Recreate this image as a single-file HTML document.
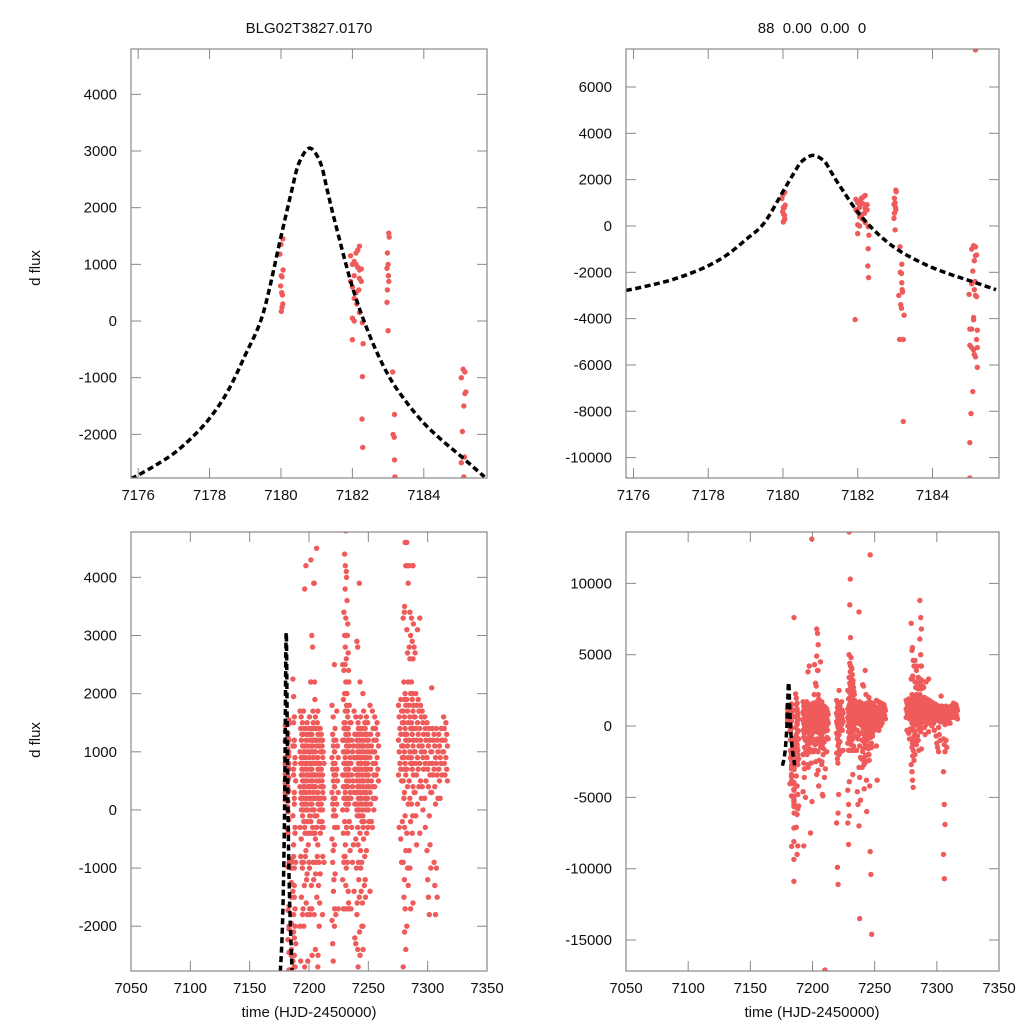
<!DOCTYPE html>
<html><head><meta charset="utf-8"><style>
html,body{margin:0;padding:0;background:#fff;width:1024px;height:1024px;overflow:hidden;}
svg{display:block;font-family:"Liberation Sans",sans-serif;}
</style></head><body>
<svg id="fig" width="1024" height="1024" viewBox="0 0 1024 1024">
<text x="309" y="33" font-size="15" text-anchor="middle" fill="#111">BLG02T3827.0170</text>
<text x="812" y="33" font-size="15" text-anchor="middle" fill="#111" xml:space="preserve">88  0.00  0.00  0</text>
<text transform="translate(40,268) rotate(-90)" font-size="15" text-anchor="middle" fill="#111">d flux</text>
<text transform="translate(40,740) rotate(-90)" font-size="15" text-anchor="middle" fill="#111">d flux</text>
<text x="309" y="1017" font-size="15" text-anchor="middle" fill="#111">time (HJD-2450000)</text>
<text x="812" y="1017" font-size="15" text-anchor="middle" fill="#111">time (HJD-2450000)</text>
</svg>
<script>
// ---- data ----
const curveTimes = [7175.8,7176,7176.5,7177,7177.5,7178,7178.5,7179,7179.5,7180,7180.3,7180.5,7180.8,7181.1,7181.3,7181.5,7182,7182.5,7183,7183.5,7184,7184.5,7185,7185.7];
const curveFlux  = [-2780,-2720,-2540,-2335,-2060,-1718,-1250,-600,135,1490,2300,2780,3050,2800,2300,1780,600,-280,-950,-1420,-1800,-2100,-2365,-2750];
const epochTimes = [7180.05,7180,7179.97,7180.06,7180.01,7180.03,7179.99,7180.02,7180.04,7180.05,7180.03,7180.01,
7181.95,7182,7182.05,7182.1,7182.15,7182.2,7182.25,7182.1,7182.15,7182.2,7181.95,7182.05,7182.2,7182.25,7182,7182.1,7182.18,7182.05,7182.12,7182.2,7182,7182.05,7182.28,7182,7182.3,7182.28,7182.27,7182.29,7181.93,
7183.02,7183.03,7182.98,7183,7182.97,7183.01,7183.02,7182.98,7182.97,7183,7183.13,7183.18,7183.14,7183.17,7183.18,7183.19,7183.2,7183.1,7183.15,7183.17,7183.24,7183.12,7183.22,7183.22,
7185.1,7185.15,7185.05,7185.18,7185.15,7185.12,7185.08,7185.14,7185.05,7185.12,7184.98,7185.15,7185.18,7185.1,7185.1,7185,7185.05,7185.2,7185.18,7185,7185.05,7185.1,7185.2,7185.12,7185.15,7185.2,7185.08,7185.03,7185,7185,7185.15];
const epochFlux = [1450,1350,1180,900,800,780,620,500,460,300,240,170,
1150,1000,1050,1000,950,900,920,1200,1250,1320,700,800,750,700,600,500,550,400,300,150,50,0,-30,-330,-400,-980,-1730,-2230,-4040,
1550,1480,1200,1000,930,800,700,550,330,-170,-900,-1650,-2000,-2050,-2450,-2750,-2850,-3000,-3400,-3550,-3850,-4900,-4900,-8440,
-850,-900,-1000,-1250,-1280,-1500,-1950,-2400,-2500,-2750,-2950,-3000,-3050,-3950,-4050,-4450,-4450,-4500,-4900,-5150,-5250,-5350,-5250,-5550,-5650,-6100,-7150,-8100,-9350,-10880,7600];
const nightTimes = [7187,7187.6,7188.2,7193,7194,7195,7196,7197,7198,7199,7200,7201,7202,7203,7204,7205,7206,7207,7208,7209,7210,7211,7212,
7220,7221,7222,7224,7229,7230,7231,7232,7233,7234,7236,7238,7240,7241,7242,7243,7244,7245,7246,7247,7248,7249,7250,7252,7254,7256,7258,
7276,7278,7280,7281,7283,7285,7287,7288,7290,7292,7294,7296,7298,7300,7302,7304,7306,7308,7310,7312,7314,7316];
const nightFlux = [
[2250,1950,1600,1100,700,300,-100,-600,-1000,-1400,-1800,-2200,-2600],
[1500,1200,900,600,200,-300,-800,-1300,-1700,-2100,-2500,-2700,-3500,-4200,-5800,-7100,-9000],
[1100,800,500,100,-400,-900,-1500,-2000,-2300,-2700,-4800,-5600,-6200,-8400],
[1700,1400,1200,1000,800,600,400,200,0,-300,-800,-1500,-2000,-2600,-3000,-4600,-8400],
[1600,1300,1100,900,700,500,300,100,-100,-500,-900,-1800,-3600],
[1500,1300,1000,800,600,400,200,0,-200,-1000,-1700,-2000,-5000],
[1700,1400,1100,900,700,500,300,100,-400,-900,-1300,-2900],
[3800,1400,1200,1000,800,600,400,200,0,-300,-800,-1600,-2700],
[4200,1300,1100,900,700,500,300,100,-200,-700,-1200,-1800],
[1500,1300,1000,800,600,400,200,0,-400,-1100,-2600,-5300,-7500],
[13100,1400,1200,1000,800,600,400,200,-100,-600,-900,-1700],
[1600,1300,1100,900,700,500,300,100,-200,-1000,-1800,4300],
[2200,1400,1200,1000,800,600,400,200,0,-400,-1300,-2500],
[3000,2800,1500,1300,1100,900,700,500,300,100,-300,-900,-1700],
[6800,6500,5700,4900,3900,2200,1700,1400,1200,1000,800,600,400,200,-100,-400,-1200,-3100,-3400],
[3900,1900,1400,1200,1000,800,600,400,200,0,-400,-1100,-1800,-4200],
[1600,1400,1200,1000,800,600,400,200,-100,-500,-900,-1500,-2400],
[4500,1500,1300,1100,900,700,500,300,100,-300,-800,-2500],
[1700,1300,1100,900,700,500,300,100,-200,-600,-1300,-2000,-2700,-4800],
[1400,1200,1000,800,600,400,200,0,-400,-900,-1600,-3600,-4900],
[1400,1200,1000,800,600,400,200,0,-300,-1100,-17100],
[1300,1100,900,700,500,300,100,-200,-800,-3000],
[1200,1000,800,600,400,200,0,-300,-900,-1800],
[1800,1300,1100,900,700,500,300,100,-100,-500,-900,-1400,-1900,-2300,-6100,-6800,-9900,-11100],
[1600,1200,1000,800,600,400,200,0,-300,-700,-1200,-1700,-2600,-4800],
[2500,1400,1200,1000,800,600,400,200,-100,-600,-1100,-1800,-2000],
[1700,1100,900,700,500,300,100,-300,-1700],
[2500,1900,1500,1200,1000,800,600,400,200,0,-400,-800,-1200,-1700,-3900,-4500,-5500,-6300,-6800,-8300],
[13600,8500,6200,5000,4400,4200,3400,3000,2800,2400,2000,1700,1400,1200,1000,800,600,400,200,-200,-600,-900,-1700],
[10300,4800,4000,3800,3300,3000,2500,2200,1800,1500,1300,1100,900,700,500,300,100,-300,-800,-1300],
[4100,3600,3200,2600,2000,1600,1400,1200,1000,800,600,400,200,0,-400,-1000,-1700],
[3000,2700,2200,1700,1400,1200,1000,800,600,400,200,-200,-900,-1400,-1700,-3400],
[2400,1800,1500,1300,1100,900,700,500,300,100,-200,-700,-1600],
[1500,1200,1000,800,600,400,200,-300,-900,-1700,-4600,-5500],
[8000,1700,1300,1100,900,700,500,300,100,-600,-1400,-2200,-2900,-3600,-5200,-7000,-13500],
[1600,1300,1100,900,700,500,300,100,-100,-500,-1000,-1600,-2300,-2900],
[2900,2800,1400,1200,1000,800,600,400,200,0,-300,-900,-1800,-2400,-4400],
[1500,1300,1100,900,700,500,300,100,-100,-600,-1200,-2100,-2700],
[3900,2200,1400,1200,1000,800,600,400,200,0,-400,-1000,-1500,-2500,-6000],
[1600,1300,1100,900,700,500,300,100,-200,-700,-1400,-2000,-3800],
[1400,1200,1000,800,600,400,200,0,-300,-900,-1600,-2400],
[2000,1700,1300,1100,900,700,500,300,100,-100,-500,-1300,-2000,-4200],
[12000,1500,1300,1100,900,700,500,300,100,-200,-800,-1500,-8800,-10400,-14600],
[1400,1200,1000,800,600,400,200,0,-400,-1200],
[1600,1300,1100,900,700,500,300,100,-300,-700],
[1500,1200,1000,800,600,400,200,0,-200],
[1800,1300,1100,900,700,500,300,100,-200,-1400,-3800],
[1700,1400,1200,1000,800,600,400,200,0,-300],
[1600,1400,1200,1000,800,600,400,200],
[1500,1300,1100,900,700,500],
[1800,1600,1400,1200,1000,800,600,-300],
[1900,1700,1500,1300,1100,900,700,500,-200,-500,-900],
[7200,5300,3500,3300,2200,1900,1700,1500,1300,1100,900,700,500,200,-300,-900,-1500,-2100,-2700,-3200],
[5500,4600,4200,3400,2000,1800,1600,1400,1200,1000,800,600,300,-100,-700,-1200,-1700,-2400,-3800,-4300],
[4600,4200,3900,3100,2700,2200,1900,1700,1500,1300,1100,900,700,400,100,-400,-1000,-1300,-2000],
[4200,3400,3000,2800,2600,2000,1800,1600,1400,1200,1000,800,500,200,-200,-700,-1000,-1700],
[8800,7600,6800,6100,5000,4200,3300,2900,2600,2200,1900,1700,1500,1300,1100,900,700,400,100,-400,-1600],
[4200,3200,2800,2000,1800,1600,1400,1200,1000,800,600,300,-100],
[2700,2000,1800,1600,1400,1200,1000,800,600,300,-100,-600],
[3100,1900,1700,1500,1300,1100,900,700,400,100],
[3300,1800,1600,1400,1200,1000,800,500,200,-400],
[1700,1500,1300,1100,900,700,400,0],
[1600,1400,1200,1000,800,500,200,-300],
[1500,1300,1100,900,700,400,-700,-1200,-1500],
[1400,1200,1000,800,600,300,-100,-600,-1000,-1800],
[2100,1400,1200,1000,800,600,300],
[1300,1100,900,700,400,100,-900,-1300,-1800,-3200,-5500,-6900,-9000,-10700],
[1400,1200,1000,800,600,200,-1000,-1500],
[1300,1100,900,700,500,200],
[1400,1200,1000,800,600],
[1600,1400,1200,1000,800,600],
[1500,1300,1100,900,700,500]];
const topXTicks = [7176,7178,7180,7182,7184];
const bottomXTicks = [7050,7100,7150,7200,7250,7300,7350];
const tlYTicks = [-2000,-1000,0,1000,2000,3000,4000];
const trYTicks = [-10000,-8000,-6000,-4000,-2000,0,2000,4000,6000];
const blYTicks = [-2000,-1000,0,1000,2000,3000,4000];
const brYTicks = [-15000,-10000,-5000,0,5000,10000];

// ---- drawing ----
const NS = "http://www.w3.org/2000/svg";
const svg = document.getElementById('fig');
function mk(tag, attrs, parent){const e=document.createElementNS(NS,tag);for(const k in attrs)e.setAttribute(k,attrs[k]);(parent||svg).appendChild(e);return e;}

const panels = [
 {id:'top-left', x0:131,x1:487,y0:49,y1:478, xmin:7175.8,xmax:7185.77, ymin:-2770,ymax:4800, xt:topXTicks, yt:tlYTicks},
 {id:'top-right',x0:626,x1:999,y0:49,y1:478, xmin:7175.8,xmax:7185.78, ymin:-10880,ymax:7640, xt:topXTicks, yt:trYTicks},
 {id:'bottom-left',x0:131,x1:487,y0:532,y1:971, xmin:7050,xmax:7350, ymin:-2770,ymax:4780, xt:bottomXTicks, yt:blYTicks},
 {id:'bottom-right',x0:626,x1:999,y0:532,y1:971, xmin:7050,xmax:7350, ymin:-17170,ymax:13600, xt:bottomXTicks, yt:brYTicks}
];

const allT = epochTimes.slice(), allF = epochFlux.slice();
nightTimes.forEach((t,i)=>{nightFlux[i].forEach((v,j)=>{allT.push(t + (j%3-1)*0.6); allF.push(v);});});

panels.forEach((p,pi)=>{
  const sx = t => p.x0 + (t-p.xmin)/(p.xmax-p.xmin)*(p.x1-p.x0);
  const sy = v => p.y1 - (v-p.ymin)/(p.ymax-p.ymin)*(p.y1-p.y0);
  const g = mk('g',{});
  
  
  const cp = mk('clipPath',{id:'clip'+pi},g);
  mk('rect',{x:p.x0,y:p.y0,width:p.x1-p.x0,height:p.y1-p.y0},cp);
  p.xt.forEach(t=>{
    const x=sx(t); if(x<p.x0-1||x>p.x1+1) return;
    mk('line',{x1:x,x2:x,y1:p.y1,y2:p.y1-10,stroke:'#888','stroke-width':1},g);
    mk('line',{x1:x,x2:x,y1:p.y0,y2:p.y0+10,stroke:'#888','stroke-width':1},g);
    const tx = mk('text',{x:x,y:p.y1+22,'font-size':15,'text-anchor':'middle',fill:'#111'},g);
    tx.textContent=t;
    
    
  });
  p.yt.forEach(v=>{
    const y=sy(v);
    mk('line',{x1:p.x0,x2:p.x0+10,y1:y,y2:y,stroke:'#888','stroke-width':1},g);
    mk('line',{x1:p.x1,x2:p.x1-10,y1:y,y2:y,stroke:'#888','stroke-width':1},g);
    const tx = mk('text',{x:p.x0-14,y:y+5,'font-size':15,'text-anchor':'end',fill:'#111'},g);
    tx.textContent=v;
    
    
  });
  const pg = mk('g',{'clip-path':'url(#clip'+pi+')',fill:'#ef5a5a'},g);
  
  
  for(let i=0;i<allT.length;i++){
    mk('circle',{cx:sx(allT[i]).toFixed(1),cy:sy(allF[i]).toFixed(1),r:2.7},pg);
  }
  const pts = curveTimes.map((t,i)=>[sx(t),sy(curveFlux[i])]);
  let d = 'M'+pts[0][0]+','+pts[0][1];
  for(let i=0;i<pts.length-1;i++){
    const p0=pts[Math.max(0,i-1)],p1=pts[i],p2=pts[i+1],p3=pts[Math.min(pts.length-1,i+2)];
    const c1=[p1[0]+(p2[0]-p0[0])/6,p1[1]+(p2[1]-p0[1])/6];
    const c2=[p2[0]-(p3[0]-p1[0])/6,p2[1]-(p3[1]-p1[1])/6];
    d+=' C'+c1[0]+','+c1[1]+' '+c2[0]+','+c2[1]+' '+p2[0]+','+p2[1];
  }
  const cv = mk('path',{d:d,fill:'none',stroke:'#000','stroke-width':3.5,'stroke-dasharray':'6,3.5','clip-path':'url(#clip'+pi+')'},g);
  
  
  const fr = mk('rect',{x:p.x0,y:p.y0,width:p.x1-p.x0,height:p.y1-p.y0,fill:'none',stroke:'#888','stroke-width':1.2},g);
  
  
});
</script>
</body></html>
